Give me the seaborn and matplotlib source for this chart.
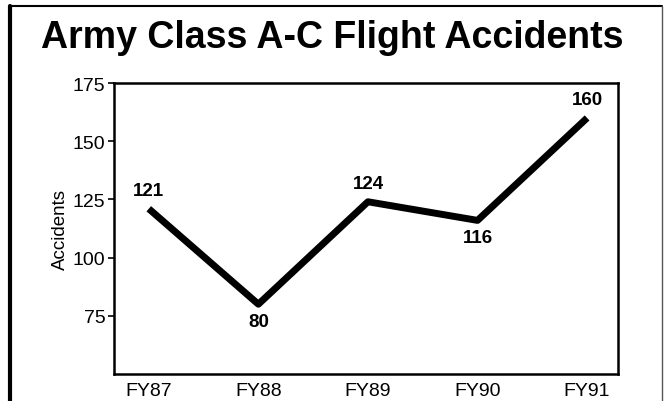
import seaborn as sns
import matplotlib.pyplot as plt
import pandas as pd
from matplotlib.lines import Line2D

# data
years = ["FY87", "FY88", "FY89", "FY90", "FY91"]
accidents = [121, 80, 124, 116, 160]
y_ticks = [75, 100, 125, 150, 175]

df = pd.DataFrame({"Year": years, "Accidents": accidents})

sns.set_theme(style="ticks")
plt.rcParams["font.family"] = ["Liberation Sans", "DejaVu Sans"]

fig = plt.figure(figsize=(6.65, 4.02), dpi=100)
ax = fig.add_axes([0.171, 0.067, 0.758, 0.724])

sns.lineplot(data=df, x="Year", y="Accidents", color="black", linewidth=5,
             solid_capstyle="butt", sort=False, ax=ax)

ax.set_xlim(-0.32, 4.28)
ax.set_ylim(50, 175)
ax.set_yticks(y_ticks)
ax.set_xlabel("")
ax.set_ylabel("Accidents", fontsize=13.5, color="black", labelpad=3)
ax.tick_params(axis="y", length=4, width=1.2, labelsize=14, colors="black", pad=2)
ax.tick_params(axis="x", length=0, labelsize=14, colors="black", pad=6)
for s in ax.spines.values():
    s.set_linewidth(1.8)
    s.set_color("black")

# value labels: above the point unless it's a local dip
for i, v in enumerate(accidents):
    below = (i > 0 and i < len(accidents) - 1
             and v < accidents[i - 1] and v < accidents[i + 1])
    ax.annotate(str(v), (i, v), xytext=(0, -6 if below else 7),
                textcoords="offset points", ha="center",
                va="top" if below else "bottom",
                fontsize=13.5, fontweight="bold", color="black")

fig.text(0.5, 0.905, "Army Class A-C Flight Accidents", ha="center", va="center",
         fontsize=27, fontweight="bold", color="black")

# outer box around the figure
fig.add_artist(Line2D([0.015, 0.015], [0.983, 0.0], transform=fig.transFigure,
                      color="black", linewidth=3))
fig.add_artist(Line2D([0.015, 0.996], [0.983, 0.983], transform=fig.transFigure,
                      color="black", linewidth=1.5))
fig.add_artist(Line2D([0.996, 0.996], [0.983, 0.0], transform=fig.transFigure,
                      color="#555555", linewidth=1))

fig.savefig("out.png", dpi=100)
